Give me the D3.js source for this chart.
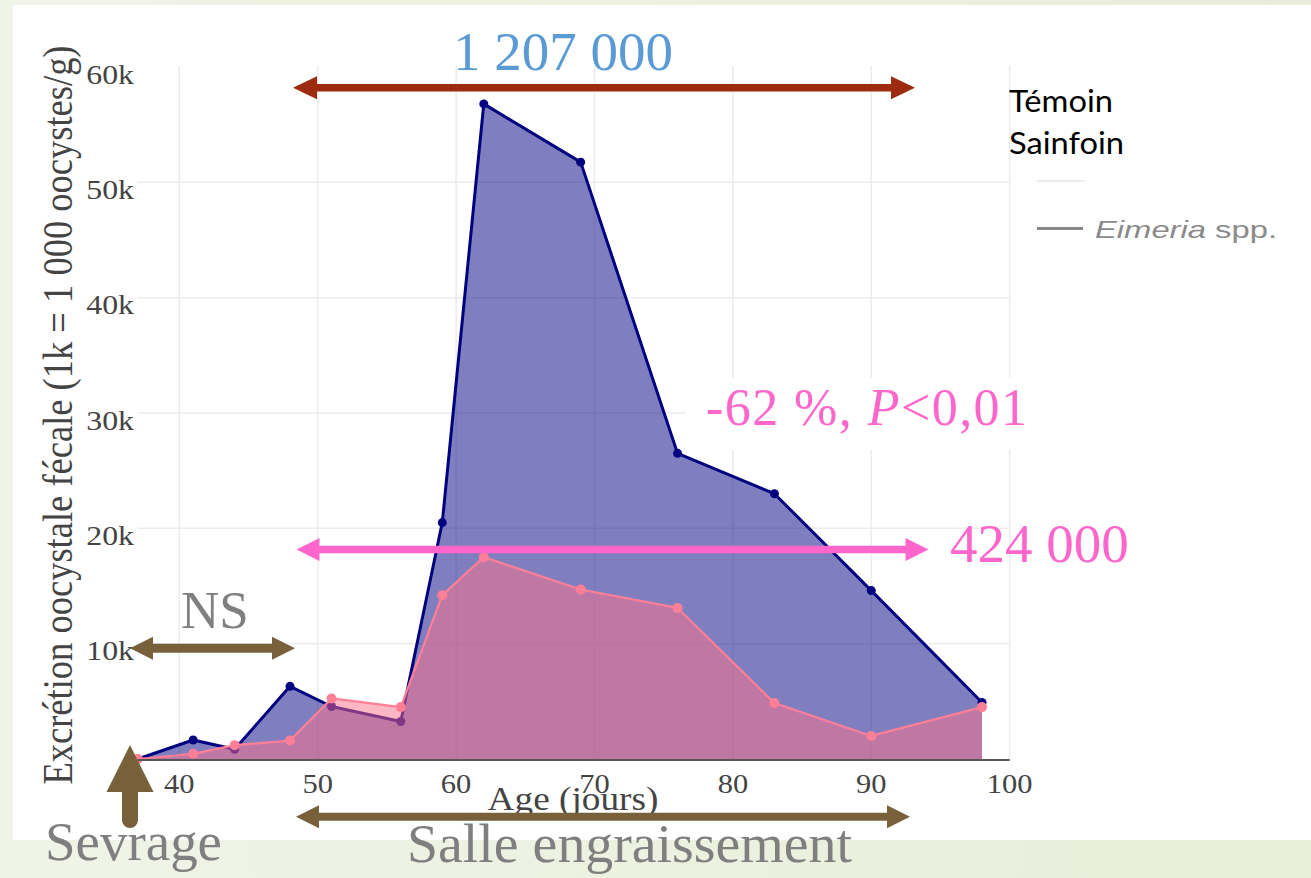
<!DOCTYPE html>
<html>
<head>
<meta charset="utf-8">
<script src="https://cdn.jsdelivr.net/npm/d3@7"></script>
<style>
  html, body { margin: 0; padding: 0; }
  body { width: 1311px; height: 878px; overflow: hidden; }
  svg { display: block; }
</style>
</head>
<body>
<svg id="chart" width="1311" height="878"></svg>
<script>
// Age of the piglets (days) at each faecal sampling
const days = [37, 41, 44, 48, 51, 56, 59, 62, 69, 76, 83, 90, 98];
// Oocyst excretion (oocysts/g) – control group
const temoin = [0, 1650, 850, 6300, 4550, 3250, 20500, 56800, 51750, 26500, 23000, 14600, 4900];
// Oocyst excretion (oocysts/g) – sainfoin group
const sainfoin = [0, 450, 1200, 1600, 5250, 4500, 14200, 17500, 14700, 13100, 4850, 2000, 4500];

const xTicks = [40, 50, 60, 70, 80, 90, 100];
const yTicks = [10000, 20000, 30000, 40000, 50000, 60000];
const legendLabels = ["Témoin", "Sainfoin"];

const svg = d3.select("#chart");
const W = 1311, H = 878;
const serif = "'Liberation Serif', 'Times New Roman', serif";
const SX = 1.13; // horizontal stretch of the plot's own texts

// slide background
const defs = svg.append("defs");
const grad = defs.append("linearGradient").attr("id", "bg").attr("x1", 0).attr("x2", 1).attr("y1", 0).attr("y2", 0);
grad.append("stop").attr("offset", 0).attr("stop-color", "#f0f4e7");
grad.append("stop").attr("offset", 1).attr("stop-color", "#e8eed9");
svg.append("rect").attr("width", W).attr("height", H).attr("fill", "url(#bg)");
svg.append("rect").attr("x", 13).attr("y", 5).attr("width", W - 13).attr("height", 835).attr("fill", "#fff");

// scales
const x = d3.scaleLinear().domain([37, 100]).range([137.8, 1009.7]);
const y = d3.scaleLinear().domain([0, 60000]).range([759, 67]);

// grid
const grid = svg.append("g");
grid.selectAll("line.v").data(xTicks).join("line")
  .attr("x1", d => x(d)).attr("x2", d => x(d))
  .attr("y1", y(60000) - 1).attr("y2", y(0))
  .attr("stroke", "#ececec").attr("stroke-width", 1.5);
grid.selectAll("line.h").data(yTicks.filter(v => v < 60000)).join("line")
  .attr("x1", x(37)).attr("x2", x(100))
  .attr("y1", d => y(d)).attr("y2", d => y(d))
  .attr("stroke", "#ececec").attr("stroke-width", 1.5);

// text box behind the reduction label
svg.append("rect").attr("x", 686).attr("y", 378).attr("width", 360).attr("height", 72).attr("fill", "#fff");

// series
const series = [
  { values: temoin, line: "#000080", fill: "rgba(0,0,128,0.5)", lw: 3, r: 4.5 },
  { values: sainfoin, line: "#ff7f96", fill: "rgba(255,112,138,0.5)", lw: 2.2, r: 5 }
];
const area = d3.area().x(d => x(d[0])).y0(y(0)).y1(d => y(d[1]));
const line = d3.line().x(d => x(d[0])).y(d => y(d[1]));
series.forEach(s => {
  const pts = days.map((d, i) => [d, s.values[i]]);
  const g = svg.append("g");
  g.append("path").datum(pts).attr("d", area).attr("fill", s.fill);
  g.append("path").datum(pts).attr("d", line).attr("fill", "none")
    .attr("stroke", s.line).attr("stroke-width", s.lw).attr("stroke-linejoin", "round");
  g.selectAll("circle").data(pts).join("circle")
    .attr("cx", d => x(d[0])).attr("cy", d => y(d[1])).attr("r", s.r).attr("fill", s.line);
});

// x axis line
svg.append("line").attr("x1", x(37)).attr("x2", x(100)).attr("y1", y(0) + 1).attr("y2", y(0) + 1)
  .attr("stroke", "#555").attr("stroke-width", 2);

// tick labels
svg.append("g").selectAll("text").data(xTicks).join("text")
  .attr("transform", d => `translate(${x(d)},793) scale(${SX},1)`)
  .attr("text-anchor", "middle").attr("font-family", serif).attr("font-size", 27).attr("fill", "#444")
  .text(d => d);
svg.append("g").selectAll("text").data(yTicks).join("text")
  .attr("transform", d => `translate(134,${y(d) + 16.5}) scale(${SX + 0.05},1)`)
  .attr("text-anchor", "end").attr("font-family", serif).attr("font-size", 27).attr("fill", "#444")
  .text(d => d3.format("~s")(d));

// axis titles
svg.append("text").attr("transform", `translate(573,810) scale(${SX},1)`)
  .attr("text-anchor", "middle").attr("font-family", serif).attr("font-size", 33).attr("fill", "#444")
  .text("Age (jours)");
svg.append("text").attr("transform", `translate(72,415) scale(${SX},1) rotate(-90)`)
  .attr("text-anchor", "middle").attr("font-family", serif).attr("font-size", 36.5).attr("fill", "#444")
  .text("Excrétion oocystale fécale (1k = 1 000 oocystes/g)");

// legend
svg.append("line").attr("x1", 1037).attr("x2", 1085).attr("y1", 181).attr("y2", 181)
  .attr("stroke", "#ececec").attr("stroke-width", 2);
svg.append("line").attr("x1", 1037).attr("x2", 1083).attr("y1", 228.5).attr("y2", 228.5)
  .attr("stroke", "#888").attr("stroke-width", 3);
const eim = svg.append("text").attr("x", 1095).attr("y", 237.5)
  .attr("font-family", "'Liberation Sans', Arial, sans-serif").attr("font-size", 24).attr("fill", "#8a8a8a")
  .attr("textLength", 182).attr("lengthAdjust", "spacingAndGlyphs");
eim.append("tspan").attr("font-style", "italic").text("Eimeria");
eim.append("tspan").text(" spp.");
svg.append("g").selectAll("text").data(legendLabels).join("text")
  .attr("x", 1009).attr("y", (d, i) => 111.5 + i * 42.5)
  .attr("font-family", "Lato, 'Open Sans', sans-serif").attr("font-size", 31).attr("fill", "#000")
  .attr("textLength", (d, i) => [104, 115][i]).attr("lengthAdjust", "spacingAndGlyphs")
  .text(d => d);

// annotations
function hArrow(x1, x2, cy, w, hl, hw, color, left, right) {
  const p = [];
  if (left) { p.push([x1, cy], [x1 + hl, cy - hw], [x1 + hl, cy - w / 2]); }
  else { p.push([x1, cy - w / 2]); }
  if (right) { p.push([x2 - hl, cy - w / 2], [x2 - hl, cy - hw], [x2, cy], [x2 - hl, cy + hw], [x2 - hl, cy + w / 2]); }
  else { p.push([x2, cy - w / 2], [x2, cy + w / 2]); }
  if (left) { p.push([x1 + hl, cy + w / 2], [x1 + hl, cy + hw]); }
  else { p.push([x1, cy + w / 2]); }
  svg.append("polygon").attr("points", p.map(q => q.join(",")).join(" ")).attr("fill", color);
}
const brown = "#78603a";
hArrow(293, 915, 87.7, 7.5, 24, 11.5, "#9c2b10", true, true);
hArrow(296.5, 928.5, 549.5, 7.5, 23, 11.5, "#ff66cc", true, true);
hArrow(130, 295, 648.3, 9, 23, 11.5, brown, true, true);
hArrow(296, 910, 816.7, 8, 23, 11.5, brown, true, true);
// weaning arrow
svg.append("line").attr("x1", 130).attr("x2", 130).attr("y1", 790).attr("y2", 820)
  .attr("stroke", brown).attr("stroke-width", 16).attr("stroke-linecap", "round");
svg.append("polygon").attr("points", "130,745 106.5,792 153.5,792").attr("fill", brown);

const ann = svg.append("g").attr("font-family", serif);
ann.append("text").attr("x", 453).attr("y", 70).attr("font-size", 55).attr("fill", "#5b9bd5").text("1 207 000");
ann.append("text").attr("x", 950).attr("y", 562).attr("font-size", 55).attr("fill", "#ff66cc").text("424 000");
const red = ann.append("text").attr("x", 706).attr("y", 425).attr("font-size", 52).attr("fill", "#ff66cc")
  .attr("textLength", 321).attr("lengthAdjust", "spacing");
red.append("tspan").text("-62 %, ");
red.append("tspan").attr("font-style", "italic").text("P");
red.append("tspan").text("<0,01");
ann.append("text").attr("x", 181).attr("y", 628).attr("font-size", 53).attr("fill", "#7f7f7f").text("NS");
ann.append("text").attr("x", 45).attr("y", 860).attr("font-size", 55).attr("fill", "#7f7f7f")
  .attr("textLength", 177).attr("lengthAdjust", "spacingAndGlyphs").text("Sevrage");
ann.append("text").attr("x", 407).attr("y", 861.5).attr("font-size", 55).attr("fill", "#7f7f7f")
  .attr("textLength", 445).attr("lengthAdjust", "spacingAndGlyphs").text("Salle engraissement");
</script>
</body>
</html>
